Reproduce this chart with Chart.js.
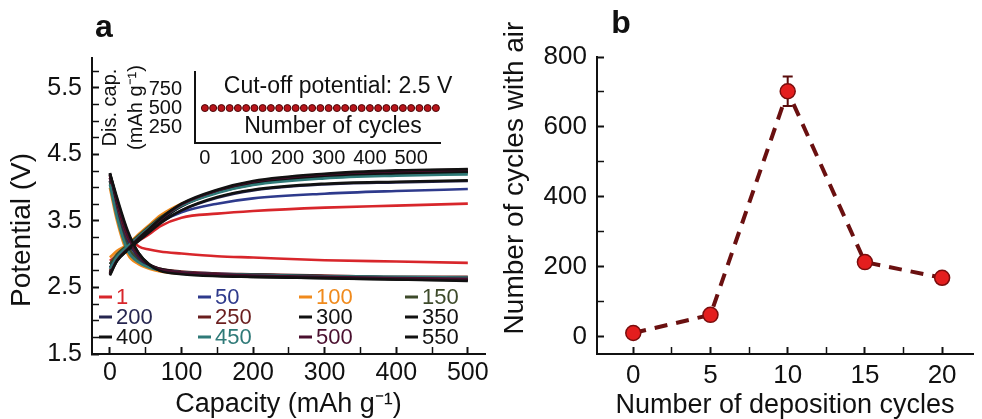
<!DOCTYPE html>
<html>
<head>
<meta charset="utf-8">
<script src="https://cdn.jsdelivr.net/npm/chart.js@4.4.1/dist/chart.umd.min.js"></script>
<style>
  html, body { margin: 0; padding: 0; background: #fff; }
  #wrap { position: relative; width: 982px; height: 419px; overflow: hidden; }
  canvas { position: absolute; }
</style>
</head>
<body>
<div id="wrap">
  <canvas id="chartA" width="490" height="419" style="left:0;top:0;width:490px;height:419px"></canvas>
  <canvas id="chartInset" width="380" height="130" style="left:92px;top:40px;width:380px;height:130px"></canvas>
  <canvas id="chartB" width="492" height="419" style="left:490px;top:0;width:492px;height:419px"></canvas>
</div>
<script>
// panel a: charge / discharge curves, potential (V) vs capacity (mAh/g)
const capacityPoints = [0, 10, 25, 40, 55, 70, 100, 150, 200, 300, 400, 500];
const cycleLabels = ['1', '50', '100', '150', '200', '250', '300', '350', '400', '450', '500', '550'];
const cycleColors = ['#d8262b', '#2e3a8c', '#f08a1c', '#3d4a2a', '#262650', '#6b1e1e',
                     '#111111', '#111111', '#111111', '#2f7a78', '#4a0f2e', '#111111'];
const chargeCurves = [
  [2.90, 2.98, 3.08, 3.20, 3.30, 3.42, 3.55, 3.61, 3.65, 3.70, 3.73, 3.76],
  [2.85, 2.97, 3.10, 3.23, 3.36, 3.48, 3.63, 3.76, 3.84, 3.91, 3.95, 3.98],
  [2.95, 3.05, 3.15, 3.30, 3.44, 3.58, 3.76, 3.94, 4.06, 4.16, 4.20, 4.22],
  [2.85, 3.00, 3.14, 3.28, 3.42, 3.55, 3.74, 3.93, 4.05, 4.16, 4.21, 4.24],
  [2.80, 2.95, 3.10, 3.23, 3.36, 3.48, 3.66, 3.85, 3.96, 4.05, 4.08, 4.10],
  [2.75, 2.93, 3.10, 3.25, 3.39, 3.53, 3.74, 3.95, 4.08, 4.19, 4.24, 4.27],
  [2.72, 2.92, 3.08, 3.23, 3.37, 3.51, 3.73, 3.94, 4.07, 4.18, 4.22, 4.24],
  [2.72, 2.92, 3.08, 3.22, 3.36, 3.50, 3.72, 3.93, 4.06, 4.17, 4.21, 4.23],
  [2.70, 2.90, 3.06, 3.20, 3.33, 3.46, 3.66, 3.86, 3.97, 4.06, 4.09, 4.11],
  [2.78, 2.96, 3.12, 3.26, 3.40, 3.53, 3.73, 3.92, 4.04, 4.14, 4.18, 4.20],
  [2.70, 2.91, 3.08, 3.24, 3.38, 3.52, 3.75, 3.96, 4.09, 4.20, 4.25, 4.27],
  [2.68, 2.90, 3.07, 3.23, 3.38, 3.53, 3.76, 3.97, 4.10, 4.21, 4.26, 4.28]
];
const dischargeCurves = [
  [4.15, 3.75, 3.30, 3.12, 3.07, 3.04, 3.01, 2.97, 2.95, 2.91, 2.89, 2.87],
  [4.10, 3.60, 3.10, 2.90, 2.80, 2.76, 2.73, 2.71, 2.69, 2.67, 2.65, 2.64],
  [4.00, 3.50, 3.00, 2.85, 2.78, 2.74, 2.71, 2.69, 2.68, 2.66, 2.65, 2.64],
  [4.10, 3.62, 3.12, 2.92, 2.82, 2.77, 2.73, 2.70, 2.69, 2.67, 2.65, 2.64],
  [4.15, 3.70, 3.20, 2.95, 2.82, 2.76, 2.72, 2.69, 2.67, 2.65, 2.63, 2.62],
  [4.18, 3.75, 3.25, 2.98, 2.84, 2.78, 2.74, 2.71, 2.70, 2.68, 2.66, 2.66],
  [4.20, 3.80, 3.30, 3.00, 2.84, 2.77, 2.72, 2.69, 2.67, 2.65, 2.63, 2.62],
  [4.20, 3.80, 3.30, 3.00, 2.83, 2.76, 2.71, 2.68, 2.66, 2.64, 2.62, 2.61],
  [4.22, 3.82, 3.32, 3.02, 2.85, 2.78, 2.73, 2.70, 2.69, 2.67, 2.65, 2.64],
  [4.05, 3.55, 3.05, 2.88, 2.80, 2.76, 2.73, 2.70, 2.69, 2.67, 2.66, 2.65],
  [4.20, 3.80, 3.28, 2.99, 2.84, 2.77, 2.73, 2.70, 2.68, 2.66, 2.64, 2.63],
  [4.22, 3.85, 3.35, 3.02, 2.84, 2.75, 2.70, 2.67, 2.66, 2.64, 2.62, 2.60]
];
const xTicksA = [0, 100, 200, 300, 400, 500];
const yTicksA = [1.5, 2.5, 3.5, 4.5, 5.5];

// inset: discharge capacity vs cycle number
const insetCycles = [0, 20, 40, 60, 80, 100, 120, 140, 160, 180, 200, 220, 240, 260, 280,
                     300, 320, 340, 360, 380, 400, 420, 440, 460, 480, 500, 520, 540, 560];
const insetCapacity = [500, 500, 500, 500, 500, 500, 500, 500, 500, 500, 500, 500, 500, 500, 500,
                       500, 500, 500, 500, 500, 500, 500, 500, 500, 500, 500, 500, 500, 500];
const insetXTicks = [0, 100, 200, 300, 400, 500];
const insetYTicks = [250, 500, 750];

// panel b
const depositionCycles = [0, 5, 10, 15, 20];
const airCycles = [10, 62, 702, 213, 168];
const airCyclesErr = [0, 0, 42, 0, 0];
const xTicksB = [0, 5, 10, 15, 20];
const yTicksB = [0, 200, 400, 600, 800];

const FONT = '"Liberation Sans", Arial, Helvetica, sans-serif';
Chart.defaults.font.family = FONT;
Chart.defaults.color = '#111';

// tick positions every `step` (minor marks), labels only on the listed values
const isLabel = (labels, v) => labels.some(l => Math.abs(l - v) < 1e-6);
function stepTicks(step) {
  return scale => {
    const vals = [];
    for (let k = Math.ceil(scale.min / step - 1e-6); k * step <= scale.max + 1e-6; k++) {
      vals.push(+(k * step).toFixed(6));
    }
    scale.ticks = vals.map(v => ({ value: v }));
  };
}
const labelOnly = (labels, fmt) => v => isLabel(labels, v) ? (fmt ? fmt(v) : String(v)) : '';
const inwardGrid = labels => ({
  display: true, drawOnChartArea: false, drawTicks: true, tickLength: -7,
  tickColor: '#111',
  tickWidth: ctx => (ctx.tick && isLabel(labels, ctx.tick.value)) ? 2 : 1.5
});
// fixed axis box, no extra room for the end labels
const fixBox = (w, h) => s => {
  if (w != null) s.width = w;
  if (h != null) s.height = h;
  s.paddingLeft = s.paddingRight = s.paddingTop = s.paddingBottom = 0;
};

// free text: panel letters, rotated y titles, inset notes
function notes(items) {
  return {
    id: 'notes',
    afterDraw(chart) {
      const ctx = chart.ctx;
      items.forEach(n => {
        ctx.save();
        ctx.font = n.font;
        ctx.fillStyle = '#111';
        ctx.textAlign = 'center';
        ctx.textBaseline = 'middle';
        ctx.translate(n.x, n.y);
        if (n.rotate) ctx.rotate(n.rotate);
        ctx.fillText(n.text, 0, 0);
        ctx.restore();
      });
    }
  };
}

const cycleLegend = {
  id: 'cycleLegend',
  afterDraw(chart) {
    const ctx = chart.ctx;
    const cols = [99, 198, 299, 405], rows = [297, 317, 337];
    ctx.save();
    ctx.font = '22px ' + FONT;
    ctx.textBaseline = 'middle';
    cycleLabels.forEach((lab, i) => {
      const x = cols[i % 4], y = rows[Math.floor(i / 4)];
      ctx.fillStyle = cycleColors[i];
      ctx.fillRect(x, y - 1.5, 13, 3);
      ctx.fillText(lab, x + 17, y + 1);
    });
    ctx.restore();
  }
};

const errorBars = {
  id: 'errorBars',
  beforeDatasetsDraw(chart) {
    const { ctx, scales: { x, y } } = chart;
    ctx.save();
    ctx.strokeStyle = '#5a0c0c';
    ctx.lineWidth = 2;
    depositionCycles.forEach((c, i) => {
      const e = airCyclesErr[i];
      if (!e) return;
      const px = x.getPixelForValue(c);
      const top = y.getPixelForValue(airCycles[i] + e);
      const bot = y.getPixelForValue(airCycles[i] - e);
      ctx.beginPath();
      ctx.moveTo(px, top); ctx.lineTo(px, bot);
      ctx.moveTo(px - 5, top); ctx.lineTo(px + 5, top);
      ctx.moveTo(px - 5, bot); ctx.lineTo(px + 5, bot);
      ctx.stroke();
    });
    ctx.restore();
  }
};

const setTicks = vals => scale => { scale.ticks = vals.map(v => ({ value: v })); };
const axisBorder = { display: true, color: '#111', width: 2 };

// ---- panel a ----
const datasetsA = [];
cycleLabels.forEach((lab, i) => {
  [chargeCurves[i], dischargeCurves[i]].forEach(curve => {
    datasetsA.push({
      label: lab,
      data: capacityPoints.map((c, k) => ({ x: c, y: curve[k] })),
      borderColor: cycleColors[i],
      borderWidth: 2.6,
      pointRadius: 0,
      cubicInterpolationMode: 'monotone',
      order: 100 - i
    });
  });
});

new Chart(document.getElementById('chartA'), {
  type: 'line',
  data: { datasets: datasetsA },
  options: {
    responsive: false, animation: false, devicePixelRatio: 1,
    layout: { padding: { top: 58, right: 5, left: 0, bottom: 0 } },
    plugins: { legend: { display: false }, tooltip: { enabled: false } },
    scales: {
      x: {
        type: 'linear', min: -25, max: 524,
        grid: inwardGrid(xTicksA), border: axisBorder,
        afterBuildTicks: stepTicks(50),
        afterFit: fixBox(null, 65),
        ticks: { font: { size: 25 }, padding: 11, autoSkip: false, maxRotation: 0,
                 callback: labelOnly(xTicksA) },
        title: { display: true, text: 'Capacity (mAh g⁻¹)', font: { size: 27, lineHeight: 1.1 }, padding: 0 }
      },
      y: {
        type: 'linear', min: 1.5, max: 5.95,
        grid: inwardGrid(yTicksA), border: axisBorder,
        afterBuildTicks: stepTicks(0.25),
        afterFit: fixBox(92, null),
        ticks: { font: { size: 25 }, padding: 17, autoSkip: false,
                 callback: labelOnly(yTicksA, v => v.toFixed(1)) }
      }
    }
  },
  plugins: [
    notes([
      { text: 'a', x: 104, y: 28, font: 'bold 32px ' + FONT },
      { text: 'Potential (V)', x: 22, y: 230, rotate: -Math.PI / 2, font: '28px ' + FONT }
    ]),
    cycleLegend
  ]
});

// ---- inset ----
new Chart(document.getElementById('chartInset'), {
  type: 'line',
  data: {
    datasets: [{
      data: insetCycles.map((c, k) => ({ x: c, y: insetCapacity[k] })),
      showLine: false,
      pointRadius: 3.5,
      pointBackgroundColor: '#b8141a',
      pointBorderColor: '#4a0606',
      pointBorderWidth: 1
    }]
  },
  options: {
    responsive: false, animation: false, devicePixelRatio: 1,
    layout: { padding: { top: 32, right: 32, left: 0, bottom: 0 } },
    plugins: { legend: { display: false }, tooltip: { enabled: false } },
    scales: {
      x: {
        type: 'linear', min: -24, max: 570,
        grid: { display: false }, border: axisBorder,
        afterBuildTicks: setTicks(insetXTicks),
        afterFit: fixBox(null, 27),
        ticks: { font: { size: 20 }, padding: -5, autoSkip: false, maxRotation: 0 }
      },
      y: {
        type: 'linear', min: 40, max: 975,
        grid: { display: false }, border: axisBorder,
        afterBuildTicks: setTicks(insetYTicks),
        afterFit: fixBox(103, null),
        ticks: { font: { size: 20 }, padding: 5 },
        title: { display: true, text: ['Dis. cap.', '(mAh g⁻¹)'],
                 font: { size: 20, lineHeight: 1.3 }, padding: { top: 5, bottom: 0 } }
      }
    }
  },
  plugins: [
    notes([
      { text: 'Cut-off potential: 2.5 V', x: 246, y: 47, font: '23px ' + FONT },
      { text: 'Number of cycles', x: 241, y: 87, font: '23px ' + FONT }
    ])
  ]
});

// ---- panel b ----
new Chart(document.getElementById('chartB'), {
  type: 'line',
  data: {
    datasets: [{
      data: depositionCycles.map((c, k) => ({ x: c, y: airCycles[k] })),
      borderColor: '#6a1010',
      borderWidth: 4,
      borderDash: [13, 9],
      pointRadius: 7.5,
      pointBackgroundColor: '#e41e1e',
      pointBorderColor: '#7a0d0d',
      pointBorderWidth: 1.5
    }]
  },
  options: {
    responsive: false, animation: false, devicePixelRatio: 1,
    layout: { padding: { top: 57, right: 0, left: 0, bottom: 0 } },
    plugins: { legend: { display: false }, tooltip: { enabled: false } },
    scales: {
      x: {
        type: 'linear', min: -2.35, max: 22,
        grid: inwardGrid(xTicksB), border: axisBorder,
        afterBuildTicks: stepTicks(2.5),
        afterFit: fixBox(null, 65),
        ticks: { font: { size: 26 }, padding: 13, autoSkip: false, maxRotation: 0,
                 callback: labelOnly(xTicksB) },
        title: { display: true, text: 'Number of deposition cycles', font: { size: 27, lineHeight: 1.0 }, padding: 0 }
      },
      y: {
        type: 'linear', min: -50, max: 800,
        grid: inwardGrid(yTicksB), border: axisBorder,
        afterBuildTicks: stepTicks(100),
        afterFit: fixBox(107, null),
        ticks: { font: { size: 26 }, padding: 17, autoSkip: false,
                 callback: labelOnly(yTicksB) }
      }
    }
  },
  plugins: [
    notes([
      { text: 'b', x: 131, y: 24, font: 'bold 32px ' + FONT },
      { text: 'Number of cycles with air', x: 25, y: 178, rotate: -Math.PI / 2, font: '28px ' + FONT }
    ]),
    errorBars
  ]
});
</script>
</body>
</html>
